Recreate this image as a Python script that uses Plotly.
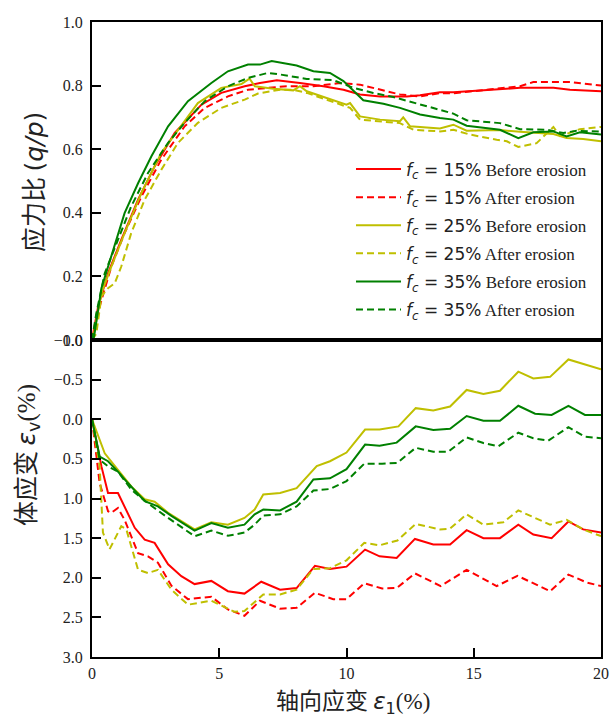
import plotly.graph_objects as go

# ---- stress ratio q/p versus axial strain (upper panel) ----
x_qp_15_before = [0, 0.24, 0.63, 1.15, 1.81, 2.46, 3.25, 4.3, 5.08, 6.0, 6.6, 7.26, 8.17, 9.09, 9.88,
                  10.53, 11.32, 12.37, 12.89, 13.67, 14.2, 15.51, 16.82, 18.13, 18.78, 20]
qp_15_before = [0, 0.105, 0.21, 0.315, 0.441, 0.546, 0.651, 0.740, 0.777, 0.798, 0.808, 0.817, 0.808, 0.798, 0.787,
                0.772, 0.766, 0.766, 0.770, 0.779, 0.779, 0.787, 0.793, 0.793, 0.787, 0.782]

x_qp_15_after = [0, 0.3, 0.76, 1.28, 1.94, 2.72, 3.64, 4.43, 5.34, 6.13, 6.92, 7.65, 8.7, 9.74, 10.53,
                 11.32, 12.1, 12.89, 13.67, 14.2, 15.51, 16.82, 17.34, 18.78, 20]
qp_15_after = [0, 0.105, 0.231, 0.336, 0.451, 0.567, 0.672, 0.730, 0.766, 0.787, 0.793, 0.798, 0.798, 0.808, 0.803,
               0.787, 0.772, 0.766, 0.776, 0.776, 0.787, 0.798, 0.811, 0.811, 0.800]

x_qp_25_before = [0, 0.1, 0.37, 0.76, 1.28, 1.94, 2.72, 3.51, 4.16, 5.08, 5.87, 6.19, 6.4, 7.12, 7.91, 8.17,
                  8.44, 9.22, 10.0, 10.14, 10.53, 11.32, 12.1, 12.23, 12.5, 13.67, 14.2, 14.72, 16.03, 16.82,
                  17.6, 18.13, 18.65, 19.3, 20]
qp_25_before = [0, 0.03, 0.147, 0.231, 0.336, 0.462, 0.588, 0.672, 0.745, 0.793, 0.805, 0.822, 0.798, 0.790, 0.785, 0.798,
                0.782, 0.761, 0.740, 0.745, 0.703, 0.693, 0.688, 0.700, 0.672, 0.665, 0.677, 0.658, 0.660, 0.655,
                0.652, 0.648, 0.635, 0.632, 0.625]

x_qp_25_after = [0, 0.17, 0.37, 0.63, 0.89, 1.15, 1.54, 2.07, 2.72, 3.38, 4.16, 5.08, 6.0, 6.52, 7.39, 7.91,
                 8.44, 9.22, 10.14, 10.53, 11.32, 12.1, 12.63, 13.67, 14.2, 14.85, 15.9, 16.3, 16.75, 17.47,
                 18.13, 18.39, 19.17, 20]
qp_25_after = [0, 0.02, 0.137, 0.163, 0.178, 0.231, 0.336, 0.441, 0.535, 0.620, 0.683, 0.730, 0.756, 0.775, 0.787, 0.787,
               0.777, 0.756, 0.730, 0.693, 0.688, 0.682, 0.661, 0.656, 0.661, 0.646, 0.630, 0.625, 0.607, 0.619,
               0.670, 0.641, 0.663, 0.670]

x_qp_35_before = [0, 0.08, 0.37, 0.76, 1.28, 1.81, 2.33, 2.99, 3.77, 4.69, 5.34, 6.13, 6.6, 7.06, 8.04, 8.7,
                  9.35, 9.88, 10.66, 11.45, 12.1, 12.89, 13.67, 14.2, 14.72, 16.03, 16.75, 17.34, 18.13, 18.65,
                  19.17, 20]
qp_35_before = [0, 0.01, 0.163, 0.262, 0.399, 0.493, 0.577, 0.672, 0.751, 0.808, 0.845, 0.866, 0.866, 0.877, 0.863, 0.845,
                0.840, 0.814, 0.754, 0.743, 0.730, 0.709, 0.698, 0.693, 0.674, 0.661, 0.635, 0.653, 0.656, 0.640,
                0.653, 0.646]

x_qp_35_after = [0, 0.17, 0.5, 1.02, 1.54, 2.2, 2.99, 3.64, 4.43, 5.34, 6.13, 6.92, 7.39, 8.44, 9.48, 10.27,
                 11.05, 11.84, 12.76, 13.67, 14.2, 14.72, 16.03, 16.82, 17.87, 18.52, 19.04, 20]
qp_35_after = [0, 0.084, 0.21, 0.315, 0.42, 0.525, 0.62, 0.683, 0.751, 0.798, 0.824, 0.840, 0.835, 0.821, 0.817, 0.793,
               0.777, 0.764, 0.743, 0.722, 0.712, 0.691, 0.682, 0.663, 0.661, 0.651, 0.658, 0.655]

# ---- volumetric strain (%) versus axial strain (lower panel, contraction positive) ----
x_ev_15_before = [0, 0.37, 0.63, 1.02, 1.68, 2.07, 2.46, 2.99, 3.51, 4.03, 4.69, 5.34, 5.99, 6.65, 7.39, 8.04,
                  8.76, 9.35, 10.0, 10.73, 11.3, 11.97, 12.69, 13.41, 14.07, 14.72, 15.38, 16.03, 16.75, 17.34,
                  18.06, 18.72, 19.3, 20]
ev_15_before = [0, 0.595, 0.93, 0.93, 1.37, 1.52, 1.56, 1.83, 1.98, 2.08, 2.04, 2.17, 2.20, 2.05, 2.15, 2.13,
                1.85, 1.89, 1.86, 1.645, 1.73, 1.75, 1.51, 1.58, 1.58, 1.40, 1.50, 1.50, 1.33, 1.455,
                1.50, 1.29, 1.39, 1.43]

x_ev_15_after = [0, 0.3, 0.63, 0.76, 1.02, 1.28, 1.81, 2.2, 2.59, 3.12, 3.77, 4.69, 5.34, 5.99, 6.6, 7.39,
                 8.04, 8.76, 9.48, 10.0, 10.7, 11.4, 11.97, 12.69, 13.7, 14.72, 15.9, 16.72, 18.0, 18.72,
                 19.44, 20]
ev_15_after = [0, 0.805, 1.16, 1.18, 1.12, 1.27, 1.69, 1.73, 1.81, 2.10, 2.27, 2.24, 2.40, 2.48, 2.29, 2.39,
               2.38, 2.19, 2.27, 2.27, 2.07, 2.135, 2.13, 1.945, 2.105, 1.90, 2.105, 1.975, 2.17, 1.96,
               2.06, 2.105]

x_ev_25_before = [0, 0.5, 1.02, 1.55, 2.07, 2.46, 2.99, 3.51, 4.03, 4.69, 5.34, 5.99, 6.39, 6.73, 7.39, 8.04,
                  8.83, 9.35, 10.0, 10.73, 11.3, 12.04, 12.72, 13.41, 14.07, 14.72, 15.38, 16.03, 16.75, 17.34,
                  18.0, 18.72, 19.3, 20]
ev_25_before = [0, 0.43, 0.64, 0.85, 1.01, 1.04, 1.18, 1.29, 1.39, 1.30, 1.33, 1.245, 1.14, 0.95, 0.93, 0.87,
                0.59, 0.53, 0.42, 0.13, 0.13, 0.09, -0.14, -0.11, -0.16, -0.37, -0.32, -0.36, -0.60, -0.515,
                -0.535, -0.755, -0.695, -0.63]

x_ev_25_after = [0, 0.3, 0.43, 0.69, 1.15, 1.35, 1.81, 2.2, 2.59, 3.12, 3.77, 4.69, 5.6, 5.99, 6.52, 6.73,
                 7.39, 8.04, 8.7, 9.35, 10.0, 10.7, 11.3, 12.0, 12.72, 13.67, 14.07, 14.72, 15.38, 16.16,
                 16.75, 17.47, 18.0, 18.65, 19.3, 20]
ev_25_after = [0, 0.595, 1.43, 1.64, 1.35, 1.39, 1.90, 1.94, 1.90, 2.15, 2.34, 2.29, 2.43, 2.42, 2.27, 2.21,
               2.21, 2.15, 1.89, 1.88, 1.78, 1.56, 1.59, 1.53, 1.32, 1.39, 1.38, 1.20, 1.33, 1.30,
               1.15, 1.25, 1.33, 1.27, 1.39, 1.475]

x_ev_35_before = [0, 0.3, 0.63, 1.02, 1.41, 2.07, 2.59, 3.12, 4.03, 4.69, 5.34, 5.99, 6.39, 6.73, 7.39, 8.04,
                  8.7, 9.35, 10.0, 10.73, 11.3, 11.97, 12.72, 13.41, 14.07, 14.72, 15.38, 16.03, 16.75, 17.41,
                  18.06, 18.72, 19.37, 20]
ev_35_before = [0, 0.47, 0.53, 0.66, 0.805, 1.035, 1.10, 1.22, 1.405, 1.31, 1.37, 1.33, 1.20, 1.14, 1.15, 1.04,
                0.76, 0.745, 0.63, 0.32, 0.335, 0.295, 0.09, 0.135, 0.12, -0.04, 0.02, 0.02, -0.17, -0.07,
                -0.055, -0.17, -0.055, -0.055]

x_ev_35_after = [0, 0.3, 0.63, 1.02, 1.55, 2.2, 2.99, 4.03, 4.69, 5.34, 5.99, 6.39, 6.73, 7.39, 8.04, 8.7,
                 9.35, 10.0, 10.7, 11.4, 12.0, 12.72, 13.41, 14.0, 14.72, 15.38, 15.97, 16.75, 17.34, 17.93,
                 18.72, 19.37, 20]
ev_35_after = [0, 0.51, 0.595, 0.66, 0.89, 1.06, 1.245, 1.476, 1.405, 1.47, 1.43, 1.33, 1.215, 1.20, 1.10, 0.90,
               0.88, 0.78, 0.56, 0.56, 0.55, 0.36, 0.41, 0.41, 0.23, 0.30, 0.34, 0.17, 0.24, 0.27,
               0.10, 0.22, 0.24]

fines = ["15%", "25%", "35%"]
states = ["Before erosion", "After erosion"]

series_qp = [
    (x_qp_15_before, qp_15_before), (x_qp_15_after, qp_15_after),
    (x_qp_25_before, qp_25_before), (x_qp_25_after, qp_25_after),
    (x_qp_35_before, qp_35_before), (x_qp_35_after, qp_35_after),
]
series_ev = [
    (x_ev_15_before, ev_15_before), (x_ev_15_after, ev_15_after),
    (x_ev_25_before, ev_25_before), (x_ev_25_after, ev_25_after),
    (x_ev_35_before, ev_35_before), (x_ev_35_after, ev_35_after),
]

colors = ["#ff0000", "#bfbf00", "#008000"]
dashes = ["solid", "7px,4px"]

SERIF = "Liberation Serif, Times New Roman, serif"
SANS = "DejaVu Sans"
CJK = "Noto Sans CJK SC"

# figure geometry (pixels)
W, H = 612, 718
ML, MR, MT, MB = 92, 11, 22, 61
PW, PH = W - ML - MR, H - MT - MB


def px_x(px):
    return (px - ML) / PW


def px_y(py):
    return (H - MB - py) / PH


fig = go.Figure()

for i in range(6):
    fi, si = divmod(i, 2)
    label = (f'<span style="font-family:{SANS}"><i>f</i><sub><i>c</i></sub> = {fines[fi]}</span>'
             f' {states[si]}')
    line = dict(color=colors[fi], width=2, dash=dashes[si])
    xq, yq = series_qp[i]
    fig.add_trace(go.Scatter(x=xq, y=yq, mode="lines", line=line, name=label,
                             legendgroup=f"g{i}", xaxis="x", yaxis="y"))
    xe, ye = series_ev[i]
    fig.add_trace(go.Scatter(x=xe, y=ye, mode="lines", line=line, name=label,
                             legendgroup=f"g{i}", showlegend=False, xaxis="x2", yaxis="y2"))

split = px_y(340)

axis_common = dict(
    showline=True, linecolor="black", linewidth=2, mirror=True,
    ticks="inside", ticklen=9, tickwidth=2, tickcolor="black",
    showgrid=False, zeroline=False, automargin=False,
    tickfont=dict(family=SERIF, size=16, color="#222"),
)

fig.update_layout(
    width=W, height=H,
    margin=dict(l=ML, r=MR, t=MT, b=MB),
    paper_bgcolor="white", plot_bgcolor="white",
    xaxis=dict(axis_common, domain=[0, 1], anchor="y", range=[0, 20], matches="x2",
               showticklabels=False, ticks=""),
    yaxis=dict(axis_common, domain=[split, 1], anchor="x", range=[0, 1],
               tick0=0, dtick=0.2, tickformat=".1f", ticklabelstandoff=4),
    xaxis2=dict(axis_common, domain=[0, 1], anchor="y2", range=[0, 20],
                tick0=0, dtick=5, ticklabelstandoff=1),
    yaxis2=dict(axis_common, domain=[0, split], anchor="x2", range=[3, -1],
                tick0=-1, dtick=0.5, tickformat=".1f", ticklabelstandoff=4),
    legend=dict(
        x=px_x(351), y=px_y(151.5), xanchor="left", yanchor="top",
        bgcolor="rgba(255,255,255,0)", borderwidth=0,
        font=dict(family=SERIF, size=17, color="#222"),
        tracegroupgap=3, itemwidth=45,
    ),
    showlegend=True,
)

# axis titles
title_font = dict(family=CJK, size=25, color="#222")
fig.add_annotation(
    text=f'应力比 <span style="font-family:{SANS}">(<i>q/p</i>)</span>',
    xref="paper", yref="paper", x=px_x(32), y=px_y(182), textangle=-90,
    showarrow=False, xanchor="center", yanchor="middle", font=title_font)
fig.add_annotation(
    text=f'体应变 <span style="font-family:{SANS}"><i>ε</i><sub>v</sub></span>'
         f'<span style="font-family:Liberation Serif">(%)</span>',
    xref="paper", yref="paper", x=px_x(25), y=px_y(455), textangle=-90,
    showarrow=False, xanchor="center", yanchor="middle", font=title_font)
fig.add_annotation(
    text=f'轴向应变 <span style="font-family:{SANS}"><i>ε</i><sub>1</sub></span>'
         f'<span style="font-family:Liberation Serif">(%)</span>',
    xref="paper", yref="paper", x=px_x(353), y=px_y(700),
    showarrow=False, xanchor="center", yanchor="middle",
    font=dict(family=CJK, size=23, color="#222"))

fig.write_html("out.html")
